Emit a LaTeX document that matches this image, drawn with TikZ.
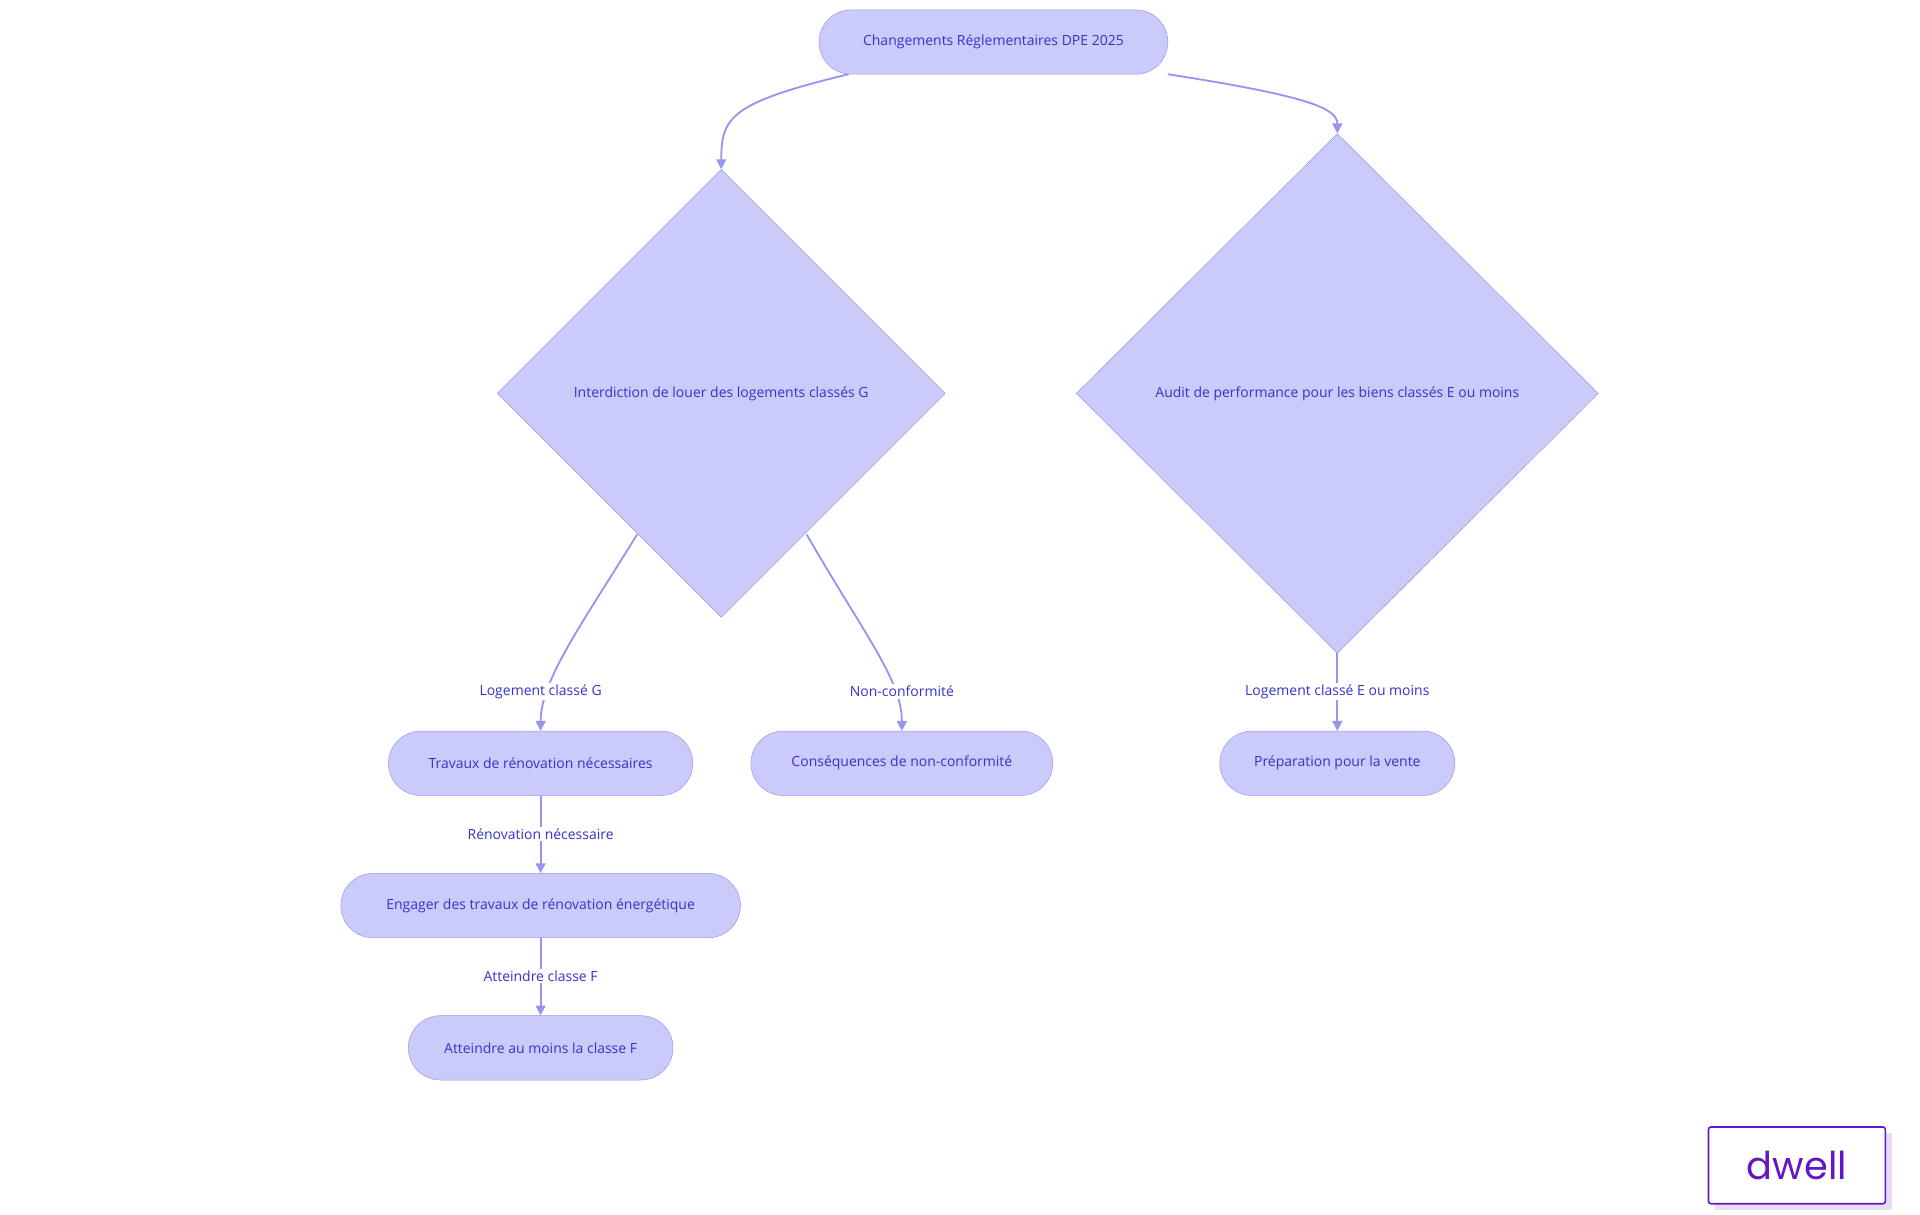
\documentclass[tikz,border=0pt]{standalone}
\usepackage{fontspec}
\setmainfont{Open Sans}
\newfontfamily\logofont{Poppins}
\usetikzlibrary{shapes.geometric,arrows.meta}
\definecolor{nf}{RGB}{203,203,251}
\definecolor{nd}{RGB}{150,150,238}
\definecolor{nt}{RGB}{51,51,204}
\definecolor{dw}{RGB}{98,24,196}
\begin{document}
\begin{tikzpicture}[x=1pt,y=-1pt,
  txt/.style={font=\fontsize{11.3}{13}\selectfont,text=nt},
  pill/.style={txt,draw=nd,fill=nf,rounded corners=26pt,minimum height=52pt,inner sep=0pt},
  dia/.style={txt,draw=nd,fill=nf,diamond,inner sep=0pt},
  lab/.style={txt,fill=white,inner sep=1.5pt},
  arr/.style={draw=nd,line width=1.5pt,-{Triangle[length=8pt,width=8pt]}}]
\useasboundingbox (0,0) rectangle (1552,982);
\node[pill,minimum width=282pt] (top) at (803,34) {Changements Réglementaires DPE 2025};
\node[dia,minimum width=362pt,minimum height=362pt] (d1) at (583,318) {Interdiction de louer des logements classés G};
\node[dia,minimum width=422pt,minimum height=420pt] (d2) at (1081,318) {Audit de performance pour les biens classés E ou moins};
\node[pill,minimum width=246pt] (tr) at (437,617) {Travaux de rénovation nécessaires};
\node[pill,minimum width=244pt] (cq) at (729,617) {Conséquences de non-conformité};
\node[pill,minimum width=190pt] (pv) at (1081,617) {Préparation pour la vente};
\node[pill,minimum width=323pt] (en) at (437,732) {Engager des travaux de rénovation énergétique};
\node[pill,minimum width=214pt] (at) at (437,847) {Atteindre au moins la classe F};
\coordinate (t1) at (686,60);
\coordinate (t2) at (944,60);
\coordinate (d1l) at (515,432);
\coordinate (d1r) at (652,432);
\draw[arr] (t1) .. controls (590,83) and (583,95) .. (d1.north);
\draw[arr] (t2) .. controls (1060,78) and (1081,88) .. (d2.north);
\draw[arr] (d1l) .. controls (470,505) and (437,550) .. (tr.north);
\draw[arr] (d1r) .. controls (700,515) and (729,550) .. (cq.north);
\draw[arr] (d2.south) -- (pv.north);
\draw[arr] (tr) -- (en);
\draw[arr] (en) -- (at);
\node[lab] (l1) at (437,559) {Logement classé G};
\node[lab] (l2) at (729,559) {Non-conformité};
\node[lab] (l3) at (1081,559) {Logement classé E ou moins};
\node[lab] (l4) at (437,674) {Rénovation nécessaire};
\node[lab] (l5) at (437,789) {Atteindre classe F};
\fill[dw!15] (1386,916) rectangle (1529,978);
\node[draw=dw,line width=1.3pt,fill=white,rounded corners=2pt,minimum width=143pt,minimum height=62pt,text=dw,font=\logofont\fontsize{31}{31}\selectfont] (logo) at (1452.5,942) {dwell};
\end{tikzpicture}
\end{document}
